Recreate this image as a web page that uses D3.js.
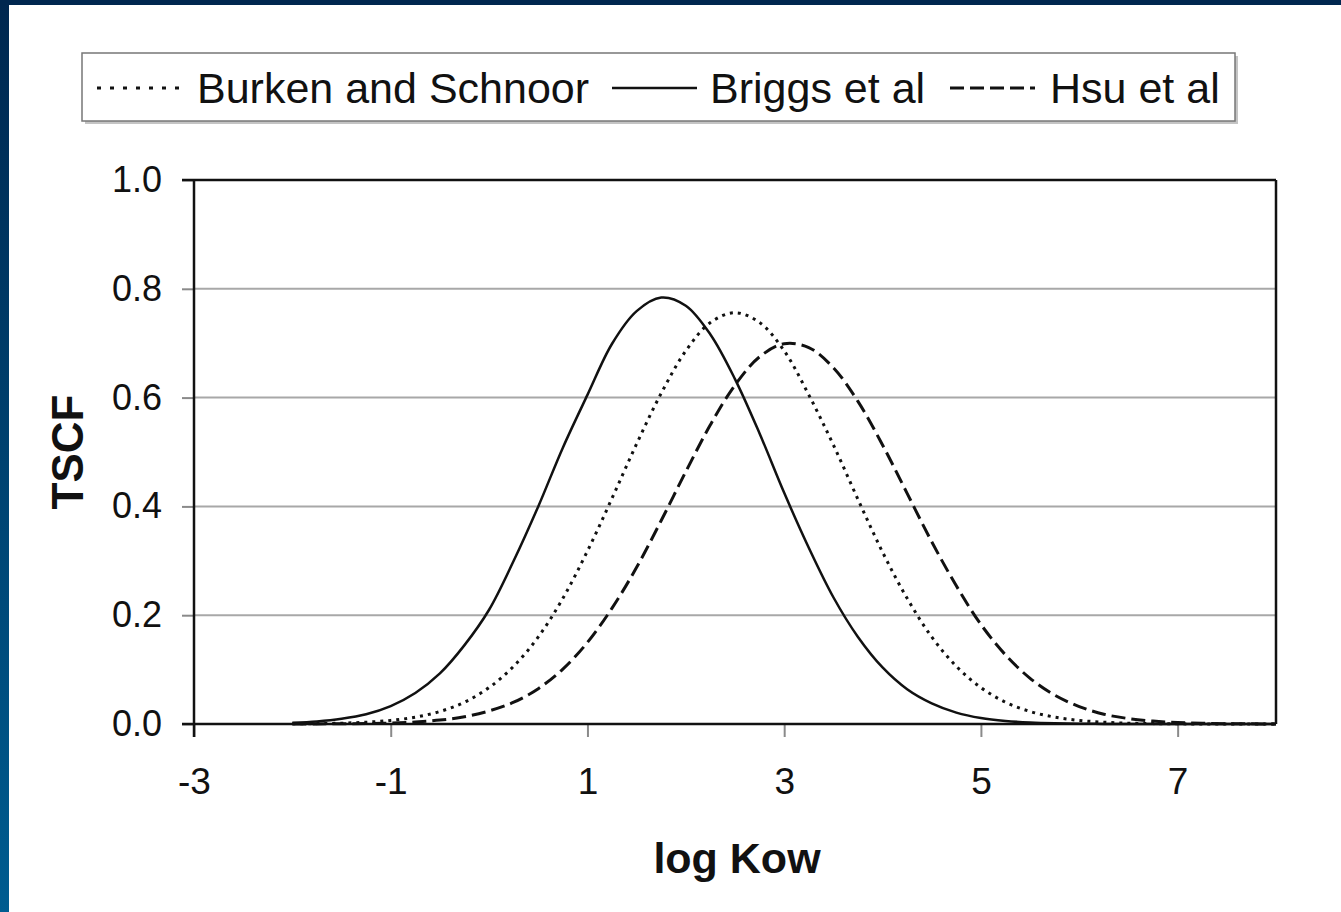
<!DOCTYPE html>
<html>
<head>
<meta charset="utf-8">
<script src="https://cdn.jsdelivr.net/npm/d3@7"></script>
<style>
  body { margin: 0; background: #fff; }
  svg { display: block; font-family: "Liberation Sans", Arial, sans-serif; }
</style>
</head>
<body>
<svg id="chart" width="1341" height="912"></svg>
<script>
'use strict';

// log Kow sample points (x axis)
const logKow = [
  -2, -1.75, -1.5, -1.25, -1, -0.75, -0.5, -0.25,
  0, 0.25, 0.5, 0.75, 1, 1.25, 1.5, 1.75,
  2, 2.25, 2.5, 2.75, 3, 3.25, 3.5, 3.75,
  4, 4.25, 4.5, 4.75, 5, 5.25, 5.5, 5.75,
  6, 6.25, 6.5, 6.75, 7, 7.25, 7.5, 7.75, 8
];

// TSCF, one value per logKow point
const burken = [
  0.0003, 0.0007, 0.0015, 0.0033, 0.0066, 0.0126, 0.023, 0.040,
  0.067, 0.106, 0.160, 0.231, 0.318, 0.415, 0.515, 0.608,
  0.686, 0.738, 0.756, 0.738, 0.686, 0.605, 0.513, 0.413,
  0.316, 0.231, 0.160, 0.106, 0.067, 0.040, 0.023, 0.0126,
  0.0066, 0.0033, 0.0015, 0.0007, 0.0003, 0.0001, 0, 0, 0
];
const briggs = [
  0.0023, 0.0048, 0.0097, 0.018, 0.033, 0.057, 0.093, 0.145,
  0.210, 0.300, 0.400, 0.508, 0.605, 0.699, 0.759, 0.784,
  0.769, 0.716, 0.634, 0.534, 0.425, 0.324, 0.233, 0.160,
  0.104, 0.064, 0.038, 0.021, 0.011, 0.0056, 0.0027, 0.0012,
  0.0005, 0.0002, 0.0001, 0, 0, 0, 0, 0, 0
];
const hsu = [
  0, 0.0002, 0.0004, 0.0009, 0.0018, 0.0037, 0.0072, 0.0133,
  0.024, 0.040, 0.065, 0.101, 0.150, 0.213, 0.288, 0.374,
  0.464, 0.550, 0.623, 0.675, 0.699, 0.692, 0.655, 0.593,
  0.513, 0.424, 0.335, 0.254, 0.183, 0.127, 0.084, 0.053,
  0.032, 0.018, 0.010, 0.0054, 0.0027, 0.0013, 0.0006, 0.0003, 0.0001
];

const seriesNames = ['Burken and Schnoor', 'Briggs et al', 'Hsu et al'];
const xTicks = [-3, -1, 1, 3, 5, 7];
const yTicks = [0, 0.2, 0.4, 0.6, 0.8, 1.0];

const STYLES = {
  'Burken and Schnoor': { dash: '3,5',  legendDash: '4,9',  width: 3 },
  'Briggs et al':       { dash: null,   legendDash: null,   width: 2.5 },
  'Hsu et al':          { dash: '14,6', legendDash: '14,6', width: 3 },
};

const svg = d3.select('#chart');

// Slide frame: dark top band and blue gradient strip on the left
const defs = svg.append('defs');
const grad = defs.append('linearGradient')
  .attr('id', 'sideGrad').attr('x1', 0).attr('y1', 0).attr('x2', 0).attr('y2', 1);
grad.append('stop').attr('offset', '0%').attr('stop-color', '#00274f');
grad.append('stop').attr('offset', '100%').attr('stop-color', '#005c90');

svg.append('rect').attr('width', 1341).attr('height', 912).attr('fill', '#fff');
svg.append('rect').attr('x', 0).attr('y', 0).attr('width', 9).attr('height', 912).attr('fill', 'url(#sideGrad)');
svg.append('rect').attr('x', 0).attr('y', 0).attr('width', 1341).attr('height', 5).attr('fill', '#00274f');

// Scales
const x = d3.scaleLinear().domain([-3, 8]).range([194, 1276]);
const y = d3.scaleLinear().domain([0, 1]).range([724, 180]);

// Gridlines
svg.append('g')
  .selectAll('line')
  .data(yTicks.filter(d => d > 0 && d < 1))
  .join('line')
    .attr('x1', x(-3)).attr('x2', x(8))
    .attr('y1', d => y(d)).attr('y2', d => y(d))
    .attr('stroke', '#a8a8a8').attr('stroke-width', 2);

// Y axis
const yAxis = svg.append('g')
  .attr('transform', `translate(${x(-3)},0)`)
  .call(d3.axisLeft(y).tickValues(yTicks).tickFormat(d3.format('.1f')).tickSize(12).tickPadding(20));
yAxis.select('.domain').remove();
yAxis.selectAll('.tick line').attr('stroke', '#8a8a8a').attr('stroke-width', 2);
yAxis.selectAll('.tick text').attr('font-size', 36).attr('fill', '#111').attr('font-family', null);

// X axis (plain hyphen for negatives, as in the original)
const xAxis = svg.append('g')
  .attr('transform', `translate(0,${y(0)})`)
  .call(d3.axisBottom(x).tickValues(xTicks).tickFormat(d => String(d)).tickSize(13).tickPadding(31));
xAxis.select('.domain').remove();
xAxis.selectAll('.tick line').attr('stroke', '#8a8a8a').attr('stroke-width', 2);
xAxis.selectAll('.tick text').attr('font-size', 37).attr('fill', '#111').attr('font-family', null);

// Plot frame
const frame = svg.append('g').attr('stroke', '#111').attr('stroke-width', 2.5).attr('fill', 'none');
frame.append('line').attr('x1', x(-3) - 12).attr('x2', x(8)).attr('y1', y(1)).attr('y2', y(1));
frame.append('line').attr('x1', x(-3) - 12).attr('x2', x(8)).attr('y1', y(0)).attr('y2', y(0));
frame.append('line').attr('x1', x(-3)).attr('x2', x(-3)).attr('y1', y(1)).attr('y2', y(0) + 13);
frame.append('line').attr('x1', x(8)).attr('x2', x(8)).attr('y1', y(1)).attr('y2', y(0));

// Curves
const seriesData = [burken, briggs, hsu];
const line = d3.line()
  .x((d, i) => x(logKow[i]))
  .y(d => y(d))
  .curve(d3.curveCatmullRom);

svg.append('g')
  .selectAll('path')
  .data(seriesData)
  .join('path')
    .attr('d', d => line(d))
    .attr('fill', 'none')
    .attr('stroke', '#111')
    .attr('stroke-width', (d, i) => STYLES[seriesNames[i]].width)
    .attr('stroke-dasharray', (d, i) => STYLES[seriesNames[i]].dash);

// Axis titles
svg.append('text')
  .attr('transform', 'translate(83,452) rotate(-90)')
  .attr('text-anchor', 'middle')
  .attr('font-size', 44).attr('font-weight', 'bold').attr('fill', '#111')
  .text('TSCF');

svg.append('text')
  .attr('x', 737).attr('y', 873)
  .attr('text-anchor', 'middle')
  .attr('font-size', 43).attr('font-weight', 'bold').attr('fill', '#111')
  .text('log Kow');

// Legend
const legend = svg.append('g');
legend.append('rect')
  .attr('x', 85).attr('y', 56).attr('width', 1153).attr('height', 68)
  .attr('fill', '#c4c4c4');
legend.append('rect')
  .attr('x', 82).attr('y', 53).attr('width', 1153).attr('height', 68)
  .attr('fill', '#fff').attr('stroke', '#777').attr('stroke-width', 1.5);

const legendPos = [
  { x0: 97,  x1: 180,  tx: 197 },
  { x0: 612, x1: 697,  tx: 710 },
  { x0: 950, x1: 1035, tx: 1050 },
];

const item = legend.selectAll('g.item')
  .data(seriesNames)
  .join('g').attr('class', 'item');

item.append('line')
  .attr('x1', (d, i) => legendPos[i].x0).attr('x2', (d, i) => legendPos[i].x1)
  .attr('y1', 88).attr('y2', 88)
  .attr('stroke', '#111')
  .attr('stroke-width', d => STYLES[d].width)
  .attr('stroke-dasharray', d => STYLES[d].legendDash);

item.append('text')
  .attr('x', (d, i) => legendPos[i].tx).attr('y', 103)
  .attr('font-size', 43).attr('fill', '#111')
  .text(d => d);
</script>
</body>
</html>
